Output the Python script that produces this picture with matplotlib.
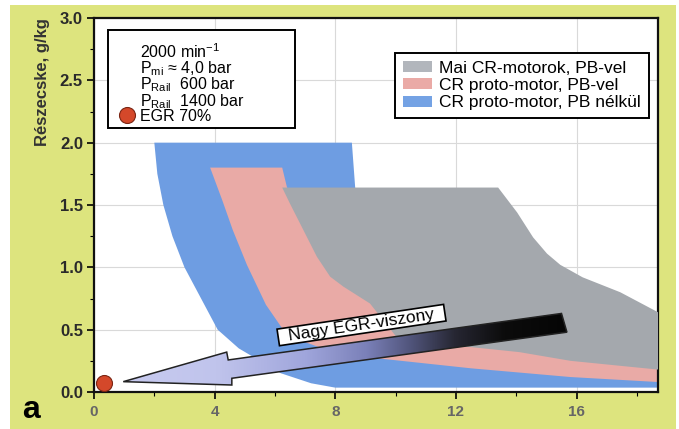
import numpy as np
import matplotlib
matplotlib.use('Agg')
import matplotlib.pyplot as plt
from matplotlib.patches import Polygon, Patch, Rectangle
from matplotlib.colors import LinearSegmentedColormap

plt.rcParams['font.family'] = ['Liberation Sans', 'DejaVu Sans']
plt.rcParams['mathtext.fontset'] = 'custom'
plt.rcParams['mathtext.rm'] = 'Liberation Sans'
plt.rcParams['mathtext.it'] = 'Liberation Sans'

# --- data (x: unlabelled axis, y: Részecske g/kg) ---
blue_x = [2.0, 8.55, 8.66, 9.5, 12.0, 18.7, 18.7,
          8.0, 7.2, 6.2, 5.5, 4.8, 4.1, 3.55, 3.0, 2.6, 2.3, 2.1]
blue_y = [2.0, 2.0, 1.64, 1.0, 0.6, 0.3, 0.035,
          0.035, 0.07, 0.15, 0.25, 0.35, 0.5, 0.75, 1.0, 1.25, 1.5, 1.75]

pink_x = [3.85, 6.24, 6.4, 8.5, 12.0, 18.7, 18.7, 15.8, 12.5, 9.8,
          8.15, 7.0, 6.27, 5.7, 5.07, 4.6, 4.25]
pink_y = [1.8, 1.8, 1.64, 1.2, 0.7, 0.4, 0.08, 0.12, 0.19, 0.26,
          0.3, 0.4, 0.5, 0.7, 1.02, 1.3, 1.54]

gray_x = [6.24, 13.4, 14.03, 14.56, 15.02, 15.46, 16.2, 17.45, 18.7,
          18.7, 17.45, 15.8, 14.1, 12.5, 11.0, 10.0, 9.15, 8.27, 7.83,
          7.39, 6.94, 6.5]
gray_y = [1.64, 1.64, 1.44, 1.24, 1.11, 1.02, 0.92, 0.80, 0.64,
          0.18, 0.21, 0.25, 0.32, 0.36, 0.38, 0.45, 0.71, 0.845, 0.925,
          1.085, 1.30, 1.51]

arrow_x = [0.97, 4.4, 4.45, 15.5, 15.68, 4.57, 4.57]
arrow_y = [0.083, 0.32, 0.257, 0.63, 0.48, 0.11, 0.056]

egr_x, egr_y = [0.33], [0.07]

legend_labels = ['Mai CR-motorok, PB-vel', 'CR proto-motor, PB-vel',
                 'CR proto-motor, PB nélkül']
info_lines = ['2000 min$^{-1}$', r'P$_{\mathrm{mi}}$ ≈ 4,0 bar',
              r'P$_{\mathrm{Rail}}$  600 bar', r'P$_{\mathrm{Rail}}$  1400 bar',
              'EGR 70%']

c_blue = '#6e9de2'
c_pink = '#e9aaa6'
c_gray = '#a4a8ad'
c_bg = '#dde47e'
c_red = '#d4482a'

fig = plt.figure(figsize=(6.79, 4.29), dpi=100, facecolor='white')
fig.patches.append(Rectangle((10 / 679, 0), 666 / 679, 1 - 5 / 429,
                             transform=fig.transFigure, facecolor=c_bg,
                             edgecolor='none', zorder=-10))
ax = fig.add_axes([94 / 679, 37 / 429, 564 / 679, 374 / 429])
ax.set_facecolor('white')

ax.add_patch(Polygon(np.column_stack([blue_x, blue_y]), closed=True,
                     facecolor=c_blue, edgecolor='none', zorder=1))
ax.add_patch(Polygon(np.column_stack([pink_x, pink_y]), closed=True,
                     facecolor=c_pink, edgecolor='none', zorder=2))
ax.add_patch(Polygon(np.column_stack([gray_x, gray_y]), closed=True,
                     facecolor=c_gray, edgecolor='none', zorder=3))

# gradient arrow
cmap = LinearSegmentedColormap.from_list('egr', [
    (0.0, '#c8cbf0'), (0.21, '#c0c4ec'), (0.41, '#a0a6dc'),
    (0.55, '#7a80b8'), (0.65, '#50547a'), (0.75, '#262632'),
    (0.86, '#0c0c0c'), (1.0, '#050505')])
arrow = Polygon(np.column_stack([arrow_x, arrow_y]), closed=True,
                facecolor='none', edgecolor='#222222', lw=1.1, zorder=5)
ax.add_patch(arrow)
grad = np.linspace(0, 1, 256).reshape(1, -1)
im = ax.imshow(grad, extent=[min(arrow_x), max(arrow_x), 0.0, 0.7],
               aspect='auto', cmap=cmap, zorder=4, origin='lower')
im.set_clip_path(arrow)

ax.text(8.87, 0.537, '  Nagy EGR-viszony  ', rotation=8.45, ha='center',
        va='center', rotation_mode='anchor', fontsize=12.5, zorder=6,
        bbox=dict(boxstyle='square,pad=0.05', fc='white', ec='black', lw=1.2))

ax.plot(egr_x, egr_y, 'o', ms=11.5, color=c_red, mec='#7a2412', mew=0.8,
        zorder=7, clip_on=False)

ax.set_xlim(0, 18.7)
ax.set_ylim(0, 3.0)
ax.set_xticks([0, 4, 8, 12, 16])
ax.set_xticks([2, 6, 10, 14, 18], minor=True)
ax.set_yticks(np.arange(0, 3.01, 0.5))
ax.set_yticks(np.arange(0.25, 3.0, 0.5), minor=True)
ax.set_yticklabels([f'{v:.1f}' for v in np.arange(0, 3.01, 0.5)])
ax.tick_params(axis='y', which='major', length=5, width=1.2, labelsize=12,
               labelcolor='#2a2a2a', pad=3)
ax.tick_params(axis='x', which='major', length=5, width=1.2, labelsize=11,
               labelcolor='#666666', pad=4)
ax.tick_params(which='minor', length=3, width=0.8)
for lab in ax.get_xticklabels() + ax.get_yticklabels():
    lab.set_fontweight('bold')
ax.set_axisbelow(True)
ax.grid(True, which='major', color='#d9d9d9', lw=0.8)
for sp in ax.spines.values():
    sp.set_linewidth(1.6)
    sp.set_color('#111111')

ax.set_ylabel('Részecske, g/kg', fontsize=12, fontweight='bold',
              color='#333333')
ax.yaxis.set_label_coords(-0.078, 0.83)

# info box: one multi-line text, tight spacing as in the original
ax.add_patch(Rectangle((0.0248, 0.706), 0.331, 0.262, transform=ax.transAxes,
                       facecolor='white', edgecolor='black', lw=1.4, zorder=8))
ax.text(0.0816, 0.935, '\n'.join(info_lines), transform=ax.transAxes,
        fontsize=11.5, va='top', ha='left', linespacing=0.85, zorder=9)
ax.plot([0.0585], [0.74], 'o', ms=11.5, color=c_red, mec='#7a2412',
        mew=0.8, transform=ax.transAxes, zorder=9, clip_on=False)

handles = [Patch(facecolor=c, edgecolor='none')
           for c in ['#b2b6bc', '#eaaaa6', '#74a2e4']]
leg = ax.legend(handles, legend_labels, loc='upper right',
                bbox_to_anchor=(0.984, 0.906), borderaxespad=0,
                fontsize=12.5, frameon=True, fancybox=False,
                handlelength=1.7, handleheight=0.6, handletextpad=0.4,
                labelspacing=0.12, borderpad=0.45)
leg.get_frame().set_edgecolor('black')
leg.get_frame().set_linewidth(1.4)
leg.get_frame().set_alpha(1)
leg.set_zorder(10)

fig.text(22 / 679, 11 / 429, 'a', fontsize=23, fontweight='bold',
         ha='left', va='baseline')

fig.savefig('out.png', dpi=100, facecolor=fig.get_facecolor())
